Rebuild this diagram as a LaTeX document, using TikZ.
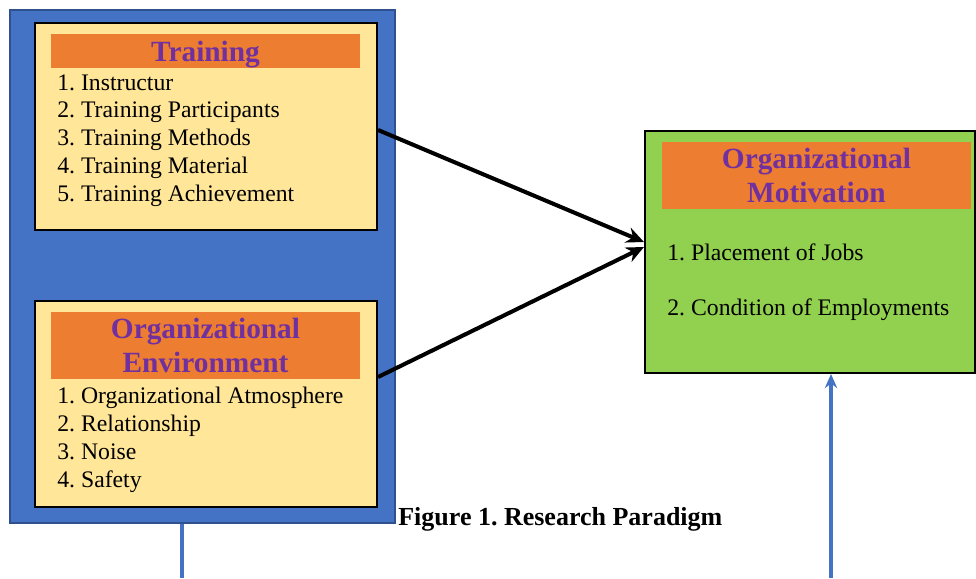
\documentclass[tikz,border=0pt]{standalone}
\usepackage{fontspec}
\setmainfont{Liberation Serif}
\usetikzlibrary{positioning,arrows.meta}

\definecolor{panelblue}{HTML}{4472C4}
\definecolor{paneledge}{HTML}{2F528F}
\definecolor{boxyellow}{HTML}{FFE699}
\definecolor{headorange}{HTML}{ED7D31}
\definecolor{headpurple}{HTML}{7030A0}
\definecolor{boxgreen}{HTML}{92D050}

\frenchspacing
\begin{document}
\begin{tikzpicture}[
  x=0.02cm, y=-0.02cm,
  panel/.style={draw=paneledge,fill=panelblue,line width=1pt,minimum width=7.7cm,minimum height=10.26cm},
  varbox/.style={draw=black,line width=1.2pt,minimum width=6.84cm},
  headbox/.style={fill=headorange,minimum width=6.18cm,inner sep=0pt,align=center,text depth=0pt,
    text=headpurple,font=\fontsize{16.7}{19}\selectfont\bfseries},
  items/.style={anchor=north west,align=left,inner sep=0pt,font=\fontsize{13.5}{15.8}\selectfont},
  link/.style={line width=2.3pt,-{Stealth[length=10pt,width=9pt]}}
]
\useasboundingbox (0,0) rectangle (976,578);

% left panel
\node[panel] (panel) at (202.5,266.5) {};
\node[varbox,fill=boxyellow,minimum height=4.14cm] (trn) at (206,126.5) {};
\node[headbox,minimum height=0.68cm] (trnhead) at (205.5,51) {Training};
\node[items] (trnlist) at (57,74) {1. Instructur\\2. Training Participants\\3. Training Methods\\4. Training Material\\5. Training Achievement};

\node[varbox,fill=boxyellow,minimum height=4.12cm] (env) at (206,404) {};
\node[headbox,minimum height=1.34cm] (envhead) at (205.5,345.5) {Organizational\\Environment};
\node[items] (envlist) at (57,387) {1. Organizational Atmosphere\\2. Relationship\\3. Noise\\4. Safety};

% right box
\node[varbox,fill=boxgreen,minimum width=6.6cm,minimum height=4.84cm] (mot) at (810,252) {};
\node[headbox,minimum height=1.34cm] (mothead) at (816.5,175.5) {Organizational\\Motivation};
\node[items,font=\fontsize{13.5}{31.8}\selectfont] (motlist) at (667,243) {1. Placement of Jobs\\2. Condition of Employments};

\node[anchor=west,inner sep=0pt,font=\fontsize{14.8}{16}\selectfont\bfseries] (caption) at (398,519) {Figure 1. Research Paradigm};

\coordinate (down) at (182,578);
\coordinate (up) at (831,578);

\draw[link] ([yshift=-0.07cm]trn.east) -- ([yshift=0.2cm]mot.west);
\draw[link] ([yshift=0.54cm]env.east) -- ([yshift=0.1cm]mot.west);
\draw[panelblue,line width=2.5pt] (panel.south -| down) -- (down);
\draw[panelblue,line width=2.5pt,-{Stealth[length=8pt,width=7pt]}] (up) -- (mot.south -| up);
\end{tikzpicture}
\end{document}
